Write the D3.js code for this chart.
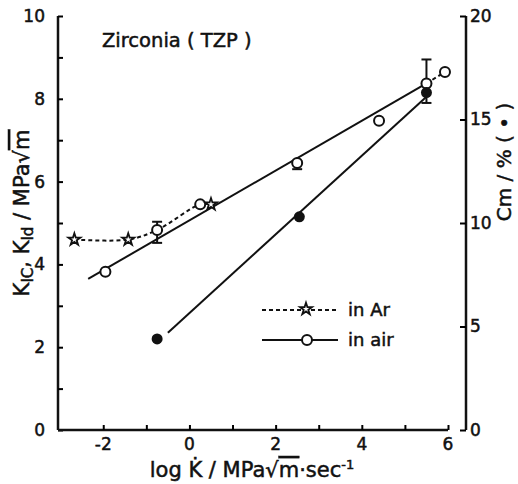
<!DOCTYPE html>
<html>
<head>
<meta charset="utf-8">
<script src="https://cdn.jsdelivr.net/npm/d3@7"></script>
<style>
  body { margin: 0; background: #fff; }
  text { font-family: "DejaVu Sans", sans-serif; fill: #111; stroke: #111; stroke-width: 0.5; }
</style>
</head>
<body>
<svg id="chart"></svg>
<script>
// K values (left axis) vs log K-dot
const arStars = [[-2.67, 4.6], [-1.42, 4.6], [0.5, 5.45]];
const arCurve = [[-2.67, 4.6], [-1.42, 4.6], [-0.75, 4.83], [0.25, 5.45], [0.5, 5.45]];
const arTail = [[5.5, 8.37], [5.93, 8.65]];
const airPoints = [[-1.95, 3.82], [-0.75, 4.83], [0.25, 5.45], [2.5, 6.45], [4.4, 7.47], [5.5, 8.37], [5.93, 8.65]];
const airFit = [[-2.35, 3.65], [5.5, 8.37]];
// [x, low, high]
const errBars = [[-0.75, 4.52, 5.03], [2.5, 6.3, 6.5], [5.5, 7.9, 8.95]];
// Cm values (right axis)
const cmPoints = [[-0.75, 4.4], [2.55, 10.3], [5.5, 16.3]];
const cmFit = [[-0.5, 4.7], [5.5, 16.1]];

const xTicks = [-2, -1, 0, 1, 2, 3, 4, 5, 6];
const xLabels = [-2, 0, 2, 4, 6];
const yTicks = [0, 1, 2, 3, 4, 5, 6, 7, 8, 9, 10];
const yLabels = [0, 2, 4, 6, 8, 10];
const y2Ticks = [0, 5, 10, 15, 20];

const width = 518, height = 484;
const svg = d3.select("#chart").attr("width", width).attr("height", height);

const x = d3.scaleLinear().domain([-3.05, 6]).range([58, 448]);
const y = d3.scaleLinear().domain([0, 10]).range([430, 16]);
const y2 = d3.scaleLinear().domain([0, 20]).range([430, 16]);

// left axis
const gL = svg.append("g").attr("transform", `translate(${x(-3.05)},0)`);
gL.call(d3.axisRight(y).tickValues(yTicks).tickSize(5).tickFormat(""));
gL.select(".domain").attr("d", `M0,${y(0)}V${y(10)}`);
gL.selectAll(".tick line").attr("stroke-width", 2);
yLabels.forEach(v => {
  svg.append("text").attr("x", 45).attr("y", y(v)).attr("dy", "0.35em")
    .attr("text-anchor", "end").attr("font-size", 17).text(v);
});

// bottom axis
const gB = svg.append("g").attr("transform", `translate(0,${y(0)})`);
gB.call(d3.axisTop(x).tickValues(xTicks).tickSize(5).tickFormat(""));
gB.select(".domain").attr("d", `M${x(-3.05)},0H${x(6)}`);
gB.selectAll(".tick line").attr("stroke-width", 2);
xLabels.forEach(v => {
  svg.append("text").attr("x", x(v)).attr("y", 450)
    .attr("text-anchor", "middle").attr("font-size", 17).text(v < 0 ? "-" + Math.abs(v) : v);
});

// right axis
const gR = svg.append("g").attr("transform", "translate(466,0)");
gR.call(d3.axisLeft(y2).tickValues(y2Ticks).tickSize(6).tickFormat(""));
gR.select(".domain").attr("d", `M0,${y2(0)}V${y2(20)}`);
gR.selectAll(".tick line").attr("stroke-width", 2);
y2Ticks.forEach(v => {
  svg.append("text").attr("x", 470).attr("y", y2(v)).attr("dy", "0.35em")
    .attr("font-size", 17).text(v);
});
svg.selectAll(".domain").attr("stroke", "#111").attr("stroke-width", 2.5);

// lines
const line = d3.line().x(d => x(d[0])).y(d => y(d[1]));
const line2 = d3.line().x(d => x(d[0])).y(d => y2(d[1]));

svg.append("path").attr("d", line(airFit)).attr("fill", "none").attr("stroke", "#111").attr("stroke-width", 2);
svg.append("path").attr("d", line2(cmFit)).attr("fill", "none").attr("stroke", "#111").attr("stroke-width", 2);
svg.append("path").attr("d", d3.line().x(d => x(d[0])).y(d => y(d[1])).curve(d3.curveCatmullRom)(arCurve))
  .attr("fill", "none").attr("stroke", "#111").attr("stroke-width", 2).attr("stroke-dasharray", "4,3");
svg.append("path").attr("d", line(arTail)).attr("fill", "none")
  .attr("stroke", "#111").attr("stroke-width", 2).attr("stroke-dasharray", "4,3");

// error bars
const eb = svg.append("g").attr("stroke", "#111").attr("stroke-width", 2);
errBars.forEach(([xv, lo, hi]) => {
  eb.append("line").attr("x1", x(xv)).attr("x2", x(xv)).attr("y1", y(lo)).attr("y2", y(hi));
  eb.append("line").attr("x1", x(xv) - 5).attr("x2", x(xv) + 5).attr("y1", y(lo)).attr("y2", y(lo));
  eb.append("line").attr("x1", x(xv) - 5).attr("x2", x(xv) + 5).attr("y1", y(hi)).attr("y2", y(hi));
});

// markers
svg.append("g").selectAll("circle").data(airPoints).join("circle")
  .attr("cx", d => x(d[0])).attr("cy", d => y(d[1])).attr("r", 5)
  .attr("fill", "#fff").attr("stroke", "#111").attr("stroke-width", 2);
svg.append("g").selectAll("circle").data(cmPoints).join("circle")
  .attr("cx", d => x(d[0])).attr("cy", d => y2(d[1])).attr("r", 5.5)
  .attr("fill", "#111");
const star = d3.symbol().type(d3.symbolStar).size(45);
svg.append("g").selectAll("path").data(arStars).join("path")
  .attr("d", star).attr("transform", d => `translate(${x(d[0])},${y(d[1])})`)
  .attr("fill", "#fff").attr("stroke", "#111").attr("stroke-width", 1.8);

// legend
const leg = svg.append("g");
leg.append("line").attr("x1", 262).attr("x2", 338).attr("y1", 310).attr("y2", 310)
  .attr("stroke", "#111").attr("stroke-width", 2).attr("stroke-dasharray", "4,3");
leg.append("path").attr("d", star).attr("transform", "translate(306,309)")
  .attr("fill", "#fff").attr("stroke", "#111").attr("stroke-width", 1.8);
leg.append("text").attr("x", 348).attr("y", 316).attr("font-size", 18).text("in Ar");
leg.append("line").attr("x1", 262).attr("x2", 338).attr("y1", 340).attr("y2", 340)
  .attr("stroke", "#111").attr("stroke-width", 2);
leg.append("circle").attr("cx", 307).attr("cy", 340).attr("r", 5)
  .attr("fill", "#fff").attr("stroke", "#111").attr("stroke-width", 2);
leg.append("text").attr("x", 348).attr("y", 346).attr("font-size", 18).text("in air");

// title
svg.append("text").attr("x", 102).attr("y", 47).attr("font-size", 19.5).text("Zirconia ( TZP )");

// axis titles
const xt = svg.append("text").attr("x", 252).attr("y", 477).attr("text-anchor", "middle").attr("font-size", 21);
xt.append("tspan").text("log K\u0307 / MPa\u221A");
xt.append("tspan").style("text-decoration", "overline").text("m");
xt.append("tspan").text("\u00B7sec");
xt.append("tspan").attr("dy", -8).attr("font-size", 13).text("-1");

const yt = svg.append("text").attr("transform", "translate(29,213) rotate(-90)")
  .attr("text-anchor", "middle").attr("font-size", 21);
yt.append("tspan").text("K");
yt.append("tspan").attr("dy", 4).attr("font-size", 15).text("IC");
yt.append("tspan").attr("dy", -4).text(", K");
yt.append("tspan").attr("dy", 4).attr("font-size", 15).text("Id");
yt.append("tspan").attr("dy", -4).text(" / MPa\u221A");
yt.append("tspan").style("text-decoration", "overline").text("m");

svg.append("text").attr("transform", "translate(511,162) rotate(-90)")
  .attr("text-anchor", "middle").attr("font-size", 20).text("Cm / %  ( \u2022 )");
</script>
</body>
</html>
